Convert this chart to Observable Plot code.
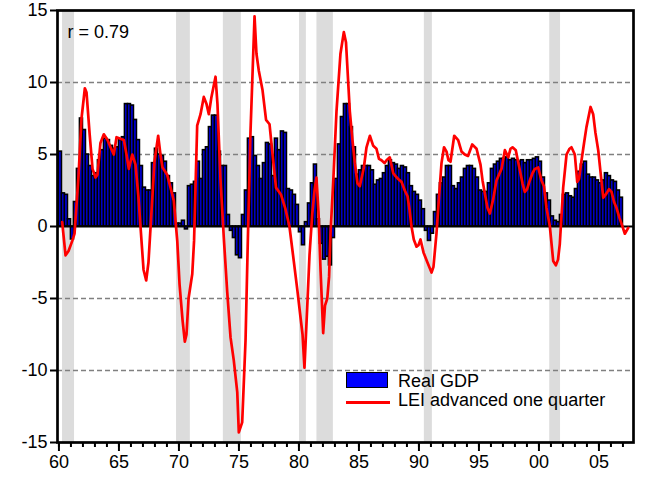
<!DOCTYPE html>
<html><head><meta charset="utf-8">
<script src="https://cdn.jsdelivr.net/npm/d3@7"></script>
<script src="https://cdn.jsdelivr.net/npm/@observablehq/plot@0.6"></script>
<style>
body{margin:0;background:#fff;}
#wrap{position:relative;width:656px;height:481px;font-family:"Liberation Sans",Arial,sans-serif;}
.leg{position:absolute;font-size:18px;color:#000;white-space:nowrap;line-height:18px;}
.sw{position:absolute;box-sizing:border-box;}
</style></head><body><div id="wrap"></div>
<script>
// Real GDP growth, quarterly, first value = 1960Q1
const gdp1960s = [5.2,2.3,2.2,0.5,-0.9,1.7,4.0,7.5,6.7,5.0,4.2,3.5,3.7,4.6,5.3,6.1,6.0,5.6,5.4,5.5,6.0,6.2,8.5,8.5,8.4,7.4,6.0,4.2,2.7,2.5,2.5,4.4,5.4,5.0,4.9,4.5,3.5,3.0,2.3,0.2];
const gdp1970s = [0.2,0.4,-0.2,2.8,2.9,3.1,4.5,3.3,5.3,5.5,6.9,7.7,7.7,5.2,4.2,4.2,0.8,-0.3,-0.8,-2.0,-2.2,0.8,2.5,6.1,6.2,4.9,4.2,3.3,4.4,5.8,5.7,3.5,6.1,5.3,6.6,6.5,2.6,2.5,2.2,1.5];
const gdp1980s = [-0.4,-1.3,0.3,1.6,3.0,4.3,0.5,-1.2,-2.3,-2.1,-2.7,-0.8,3.3,5.7,7.6,8.5,8.5,6.9,5.5,3.6,3.9,4.2,4.2,4.2,3.9,2.9,3.2,3.3,3.7,4.2,4.6,4.4,4.3,4.0,4.2,4.1,3.7,2.8,2.4,2.2];
const gdp1990s = [1.8,1.2,-0.3,-1.0,-0.5,1.0,2.2,3.0,3.4,4.2,4.2,2.8,2.6,3.0,3.4,4.0,4.2,4.2,4.0,3.4,2.5,2.4,2.4,3.0,4.0,4.3,4.5,4.7,4.7,4.8,4.6,4.7,4.6,4.5,4.6,4.4,4.6,4.6,4.7,4.8];
const gdp2000s = [4.5,3.4,2.3,1.8,0.7,0.4,0.3,0.8,2.2,2.3,2.1,2.0,2.6,3.8,4.3,4.5,3.6,3.4,3.4,3.2,3.0,3.2,3.7,3.5,3.2,3.1,2.5,2.0];
const firstYear = 1960;

// LEI advanced one quarter (decimal year, value)
const leiDates = [1960.27,1960.55,1960.80,1961.11,1961.30,1961.63,1961.88,1962.16,1962.30,1962.55,1962.80,1963.05,1963.21,1963.46,1963.74,1964.05,1964.30,1964.57,1964.80,1965.13,1965.41,1965.63,1965.82,1966.11,1966.38,1966.63,1966.88,1967.05,1967.27,1967.46,1967.71,1967.96,1968.27,1968.46,1968.63,1969.02,1969.30,1969.57,1969.86,1970.05,1970.30,1970.49,1970.63,1970.80,1971.11,1971.26,1971.52,1971.80,1972.07,1972.30,1972.49,1972.71,1973.05,1973.21,1973.46,1973.74,1974.02,1974.30,1974.57,1974.86,1974.99,1975.27,1975.55,1975.74,1975.96,1976.30,1976.46,1976.66,1976.96,1977.26,1977.55,1977.80,1978.09,1978.51,1978.88,1979.21,1979.57,1979.88,1980.13,1980.30,1980.46,1980.69,1980.88,1981.11,1981.30,1981.46,1981.63,1981.80,1982.02,1982.17,1982.36,1982.51,1982.63,1982.88,1983.13,1983.46,1983.74,1983.92,1984.24,1984.46,1984.66,1984.88,1985.07,1985.41,1985.63,1985.91,1986.19,1986.46,1986.67,1986.88,1987.13,1987.30,1987.57,1987.86,1988.05,1988.27,1988.55,1988.82,1989.05,1989.21,1989.38,1989.57,1989.80,1989.96,1990.13,1990.38,1990.71,1991.05,1991.21,1991.46,1991.67,1991.88,1992.09,1992.30,1992.46,1992.63,1992.94,1993.27,1993.55,1993.82,1994.09,1994.44,1994.80,1995.13,1995.30,1995.49,1995.71,1995.91,1996.19,1996.46,1996.88,1997.16,1997.44,1997.63,1997.80,1998.07,1998.41,1998.63,1998.82,1999.01,1999.24,1999.46,1999.66,1999.94,2000.21,2000.42,2000.63,2000.91,2001.19,2001.41,2001.59,2001.74,2002.02,2002.30,2002.55,2002.71,2002.99,2003.19,2003.34,2003.55,2003.76,2003.96,2004.30,2004.52,2004.71,2004.94,2005.13,2005.36,2005.63,2005.84,2006.05,2006.26,2006.46,2006.71,2006.88,2007.16,2007.44];
const leiValues = [0.3,-2.0,-1.7,-1.0,-0.5,3.5,7.5,9.6,9.3,6.5,4.0,3.4,3.6,5.8,6.4,6.0,5.5,5.0,6.2,6.1,6.0,5.0,4.0,5.0,4.3,2.0,-1.0,-3.0,-3.75,-2.5,1.0,4.5,6.3,5.0,4.1,3.6,2.7,1.8,-1.0,-4.0,-6.5,-8.0,-7.5,-5.0,-3.3,-1.0,7.0,7.8,9.0,8.5,7.8,9.0,10.4,8.5,3.3,-0.8,-4.5,-7.7,-9.3,-11.5,-14.3,-13.6,-7.9,-1.0,6.5,14.6,12.0,10.8,9.5,7.4,7.1,5.0,2.7,2.2,1.2,0.0,-2.4,-4.5,-6.3,-7.5,-9.8,-5.6,-2.0,0.9,2.5,3.4,1.0,-3.0,-7.4,-5.5,-5.0,-3.5,-0.5,3.5,8.0,12.0,13.5,12.8,8.0,6.0,4.4,3.0,2.8,4.1,5.5,6.3,5.6,5.4,4.7,4.6,4.4,4.6,4.8,3.7,3.5,3.3,3.1,2.5,2.1,1.2,0.0,-0.9,-1.4,-1.3,-0.9,-1.8,-2.5,-3.2,-2.8,-0.5,2.0,4.4,5.5,5.2,4.6,4.5,6.3,6.0,5.2,5.0,4.9,5.7,5.4,4.3,3.2,2.3,1.3,0.9,1.9,3.2,4.0,5.3,4.8,5.4,5.5,5.3,3.9,3.0,2.4,2.6,3.2,3.7,4.0,4.1,3.2,2.8,1.3,0.0,-2.4,-2.7,-2.3,-1.2,2.7,5.0,5.4,5.5,5.0,3.1,3.3,4.6,5.8,6.9,8.3,7.8,6.5,5.3,3.8,2.0,2.3,2.6,2.4,1.7,1.3,0.6,0.2,-0.5,-0.1];

// Recession shading (decimal years)
const recessionStart = [1960.30,1969.80,1973.70,1980.05,1981.50,1990.45,2000.90];
const recessionEnd   = [1961.30,1970.95,1975.20,1980.62,1982.87,1991.12,2001.80];

const yTicks = [-15,-10,-5,0,5,10,15];
const gridValues = [-10,-5,5,10];
const majorYears = [1960,1965,1970,1975,1980,1985,1990,1995,2000,2005];
const allYears = d3.range(1960, 2008);
const seriesNames = ["Real GDP", "LEI advanced one quarter"];
const annotation = "r = 0.79";

const quarters = [...gdp1960s, ...gdp1970s, ...gdp1980s, ...gdp1990s, ...gdp2000s];
const gdp = quarters.map((v, i) => ({start: firstYear + i / 4, end: firstYear + (i + 1) / 4, v}));
const lei = leiDates.map((t, i) => ({t, v: leiValues[i]}));
const bands = recessionStart.map((s, i) => ({s, e: recessionEnd[i]}));

const chart = Plot.plot({
  width: 656, height: 481,
  marginLeft: 57, marginRight: 23, marginTop: 10, marginBottom: 39,
  x: {domain: [1959.88, 2007.88]},
  y: {domain: [-15, 15]},
  style: {fontFamily: '"Liberation Sans", Arial, sans-serif', fontSize: "18px", color: "black", background: "white", overflow: "visible"},
  marks: [
    Plot.rect(bands, {x1: "s", x2: "e", fill: "#dcdcdc"}),
    Plot.ruleY(gridValues, {stroke: "#808080", strokeWidth: 1.5, strokeDasharray: "5,3"}),
    Plot.rectY(gdp, {x1: "start", x2: "end", y: "v", fill: "#0000ff", stroke: "black", strokeWidth: 1.6}),
    Plot.ruleY([0], {stroke: "black", strokeWidth: 2}),
    Plot.line(lei, {x: "t", y: "v", stroke: "#ff0000", strokeWidth: 2.7, strokeLinejoin: "round"}),
    Plot.frame({stroke: "black", strokeWidth: 2.7}),
    Plot.axisY({ticks: yTicks, tickSize: 7, tickPadding: 3, tickFormat: d => String(d), strokeWidth: 2, label: null}),
    Plot.axisX({ticks: majorYears, tickSize: 9, tickPadding: 4, tickFormat: d => String(d % 100).padStart(2, "0"), strokeWidth: 2, label: null}),
    Plot.axisX({ticks: allYears, tickSize: 5, tickFormat: () => "", strokeWidth: 2, label: null}),
    Plot.text([annotation], {frameAnchor: "top-left", dx: 10, dy: 22, text: d => d, textAnchor: "start", lineAnchor: "middle", fontSize: 18})
  ]
});
const wrap = document.getElementById("wrap");
wrap.appendChild(chart);

// legend overlay inside the plot area
const legendItems = [
  {name: seriesNames[0], swatch: "left:346px;top:372px;width:42px;height:16px;background:#0000ff;border:1.5px solid #000;", textTop: 372},
  {name: seriesNames[1], swatch: "left:346px;top:401px;width:44px;height:3px;background:#ff0000;", textTop: 391}
];
for (const it of legendItems) {
  const s = document.createElement("div");
  s.className = "sw"; s.style.cssText = it.swatch;
  wrap.appendChild(s);
  const t = document.createElement("div");
  t.className = "leg"; t.textContent = it.name;
  t.style.left = "398px"; t.style.top = it.textTop + "px";
  wrap.appendChild(t);
}
</script></body></html>
